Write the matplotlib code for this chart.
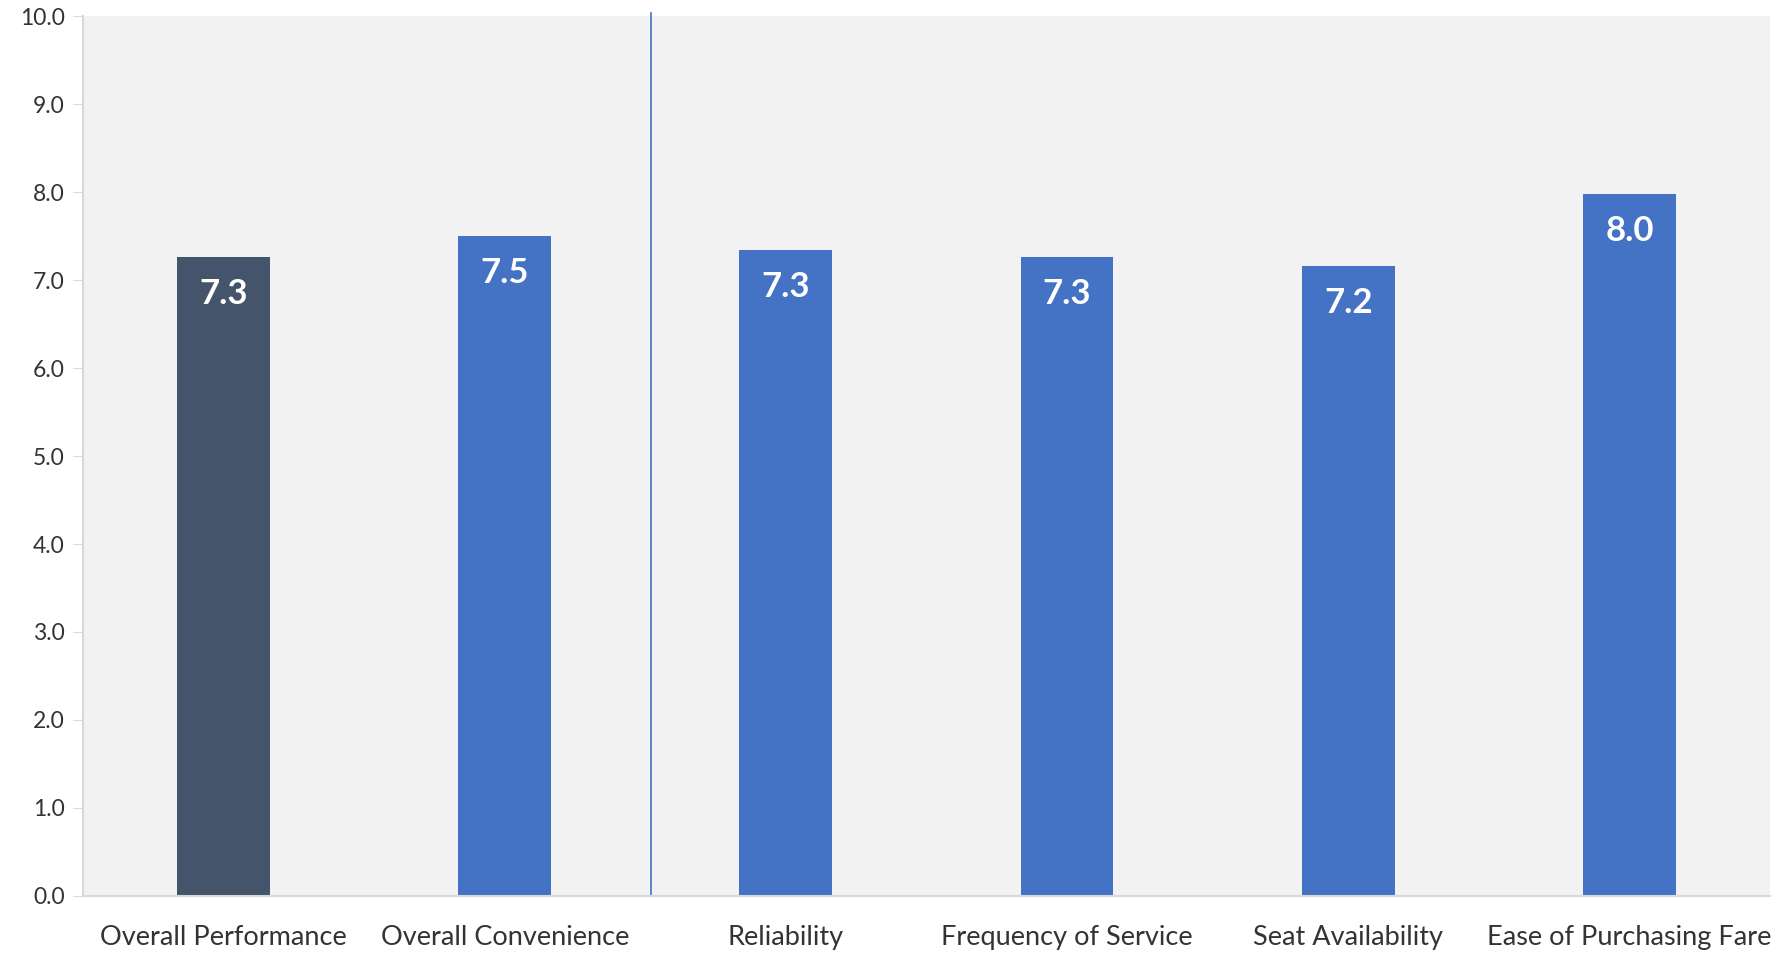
import matplotlib
matplotlib.use("Agg")
import matplotlib.pyplot as plt

categories = ["Overall Performance", "Overall Convenience", "Reliability",
              "Frequency of Service", "Seat Availability", "Ease of Purchasing Fare"]
scores = [7.26, 7.50, 7.34, 7.26, 7.16, 7.98]
bar_colors = ["#44546A", "#4472C4", "#4472C4", "#4472C4", "#4472C4", "#4472C4"]
y_ticks = [0, 1, 2, 3, 4, 5, 6, 7, 8, 9, 10]

plt.rcParams["font.family"] = ["Lato", "DejaVu Sans"]

fig = plt.figure(figsize=(17.91, 9.55), dpi=100)
ax = fig.add_axes([0.0463, 0.0618, 0.9420, 0.9214])
ax.set_facecolor("#F2F2F2")

x = list(range(len(categories)))
ax.bar(x, scores, width=0.33, color=bar_colors, zorder=2)

# value labels just inside the top of each bar
for xi, v in zip(x, scores):
    ax.annotate(f"{v:.1f}", (xi, v), xytext=(0, -26.5), textcoords="offset points",
                ha="center", va="center", color="white", fontsize=25,
                fontweight="bold", zorder=3, annotation_clip=False)

ax.set_xlim(-0.5, len(categories) - 0.5)
ax.set_ylim(0, 10)
ax.set_yticks(y_ticks)
ax.set_yticklabels([f"{t:.1f}" for t in y_ticks])
ax.set_xticks(x)
ax.set_xticklabels(categories)

ax.tick_params(axis="y", length=7, color="#D9D9D9", labelsize=16.5, labelcolor="#333333", pad=6)
ax.tick_params(axis="x", length=0, labelsize=19.5, labelcolor="#333333", pad=21)

for side in ["top", "right"]:
    ax.spines[side].set_visible(False)
for side in ["left", "bottom"]:
    ax.spines[side].set_color("#D9D9D9")
    ax.spines[side].set_linewidth(1.5)

# divider between the overall scores and the individual attributes
ax.axvline(1.52, ymin=0, ymax=1.004, color="#4472C4", linewidth=1.2, clip_on=False, zorder=1)

fig.savefig("out.png", dpi=100, facecolor="white")
